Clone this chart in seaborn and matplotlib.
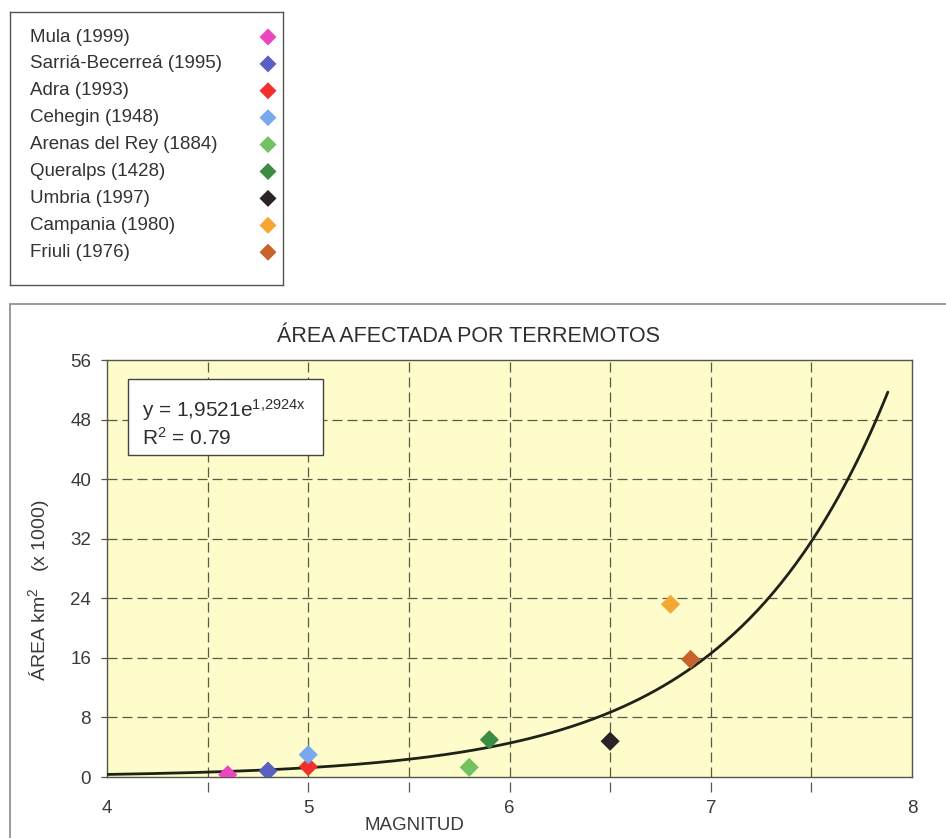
import numpy as np
import pandas as pd
import matplotlib
matplotlib.use("Agg")
import matplotlib.pyplot as plt
from matplotlib.patches import Rectangle
import seaborn as sns

sns.set_style("white")
plt.rcParams['font.family'] = ['Liberation Sans', 'DejaVu Sans']
plt.rcParams['mathtext.fontset'] = 'custom'
plt.rcParams['mathtext.rm'] = 'Liberation Sans'
plt.rcParams['mathtext.it'] = 'Liberation Sans'

# ---- data ----
sismos = ["Mula (1999)", "Sarriá-Becerreá (1995)", "Adra (1993)", "Cehegin (1948)",
          "Arenas del Rey (1884)", "Queralps (1428)", "Umbria (1997)",
          "Campania (1980)", "Friuli (1976)"]
magnitud = [4.6, 4.8, 5.0, 5.0, 5.8, 5.9, 6.5, 6.8, 6.9]
area_miles = [0.3, 0.8, 1.4, 3.0, 1.3, 5.0, 4.8, 23.2, 15.8]
colores = ["#ec45c2", "#5a60c2", "#f0302c", "#7aa8ee", "#72c262", "#3b8b44",
           "#2a2226", "#f6a633", "#c8622c"]
# fitted trend shown on the chart: y = 1.9521 e^(1.2924 x)  (km2), plotted /1000
coef_a = 1.9521
coef_b = 1.2924
x_ticks = [4, 5, 6, 7, 8]
y_ticks = [0, 8, 16, 24, 32, 40, 48, 56]

df = pd.DataFrame({"sismo": sismos, "magnitud": magnitud, "area": area_miles})

W, H = 946, 838
fig = plt.figure(figsize=(W / 100, H / 100), dpi=100)

# chart outer frame
fig.patches.append(Rectangle((10 / W, -5 / H), 945 / W, (H - 304 + 5) / H,
                             transform=fig.transFigure, fill=False,
                             edgecolor="#8a8a8a", linewidth=1.2))

ax = fig.add_axes([107 / W, 1 - 777 / H, (912 - 107) / W, (777 - 360) / H])
ax.set_facecolor("#fdfcca")

# grid
grid_kw = dict(color="#5a5a48", linewidth=0.9, dashes=(8, 4))
for yv in y_ticks[1:-1]:
    ax.axhline(yv, **grid_kw, zorder=1)
for xv in np.arange(4.5, 8.0, 0.5):
    ax.axvline(xv, ymin=-0.035, ymax=1, clip_on=False, **grid_kw, zorder=1)

# trend line
xs = np.linspace(4.0, 7.88, 300)
trend = pd.DataFrame({"magnitud": xs, "area": coef_a * np.exp(coef_b * xs) / 1000})
sns.lineplot(data=trend, x="magnitud", y="area", color="#1f2218", linewidth=2.0,
             ax=ax, zorder=3)

# points
sns.scatterplot(data=df, x="magnitud", y="area", hue="sismo", hue_order=sismos,
                palette=colores, marker="D", s=95, edgecolor="none", ax=ax,
                zorder=4, legend=False)

ax.set_xlim(4, 8)
ax.set_ylim(0, 56)
ax.set_xticks(x_ticks)
ax.set_yticks(y_ticks)
ax.tick_params(axis="y", left=True, length=4.5, width=0.9, color="#555548",
               labelsize=13.5, labelcolor="#3a3a3a", pad=7)
ax.tick_params(axis="x", bottom=False, labelsize=13.5, labelcolor="#3a3a3a", pad=13)
for sp in ax.spines.values():
    sp.set_color("#555548")
    sp.set_linewidth(1.0)

ax.set_xlabel("MAGNITUD", fontsize=13.5, color="#3a3a3a")
ax.xaxis.set_label_coords((414 - 107) / 805, (777 - 825) / 417)
ax.xaxis.label.set_va("center")
ax.set_ylabel("ÁREA km$^2$   (x 1000)", fontsize=14, color="#3a3a3a")
ax.yaxis.set_label_coords((39 - 107) / 805, (777 - 590) / 417)
ax.yaxis.label.set_va("center")
fig.text(468 / W, 1 - 336 / H, "ÁREA AFECTADA POR TERREMOTOS", ha="center",
         va="center", fontsize=15.5, color="#2e2e2e")

# equation box
ax.add_patch(Rectangle((21 / 805, (777 - 455) / 417), (323 - 128) / 805, (455 - 379) / 417,
                       transform=ax.transAxes, facecolor="white", edgecolor="#444444",
                       linewidth=1.0, zorder=6))
ax.text(35 / 805, (777 - 410) / 417, "y = 1,9521e$^{\\mathrm{1{,}2924x}}$",
        transform=ax.transAxes, ha="left", va="center", fontsize=15,
        color="#2e2e2e", zorder=7)
ax.text(35 / 805, (777 - 438) / 417, "R$^{\\mathrm{2}}$ = 0.79",
        transform=ax.transAxes, ha="left", va="center", fontsize=15,
        color="#2e2e2e", zorder=7)

# legend (top-left box), drawn as its own small axes
lax = fig.add_axes([10 / W, 1 - 285 / H, (283 - 10) / W, (285 - 12) / H])
lax.set_xlim(10, 283)
lax.set_ylim(285, 12)
lax.set_xticks([])
lax.set_yticks([])
for sp in lax.spines.values():
    sp.set_color("#555555")
    sp.set_linewidth(1.0)
rows = 37 + 26.9 * np.arange(len(sismos))
for name, col, yy in zip(sismos, colores, rows):
    lax.text(30, yy, name, ha="left", va="center", fontsize=13.5, color="#333333")
lax.scatter(np.full(len(sismos), 268), rows, c=colores, marker="D", s=75,
            edgecolors="none")

fig.savefig("out.png", dpi=100)
